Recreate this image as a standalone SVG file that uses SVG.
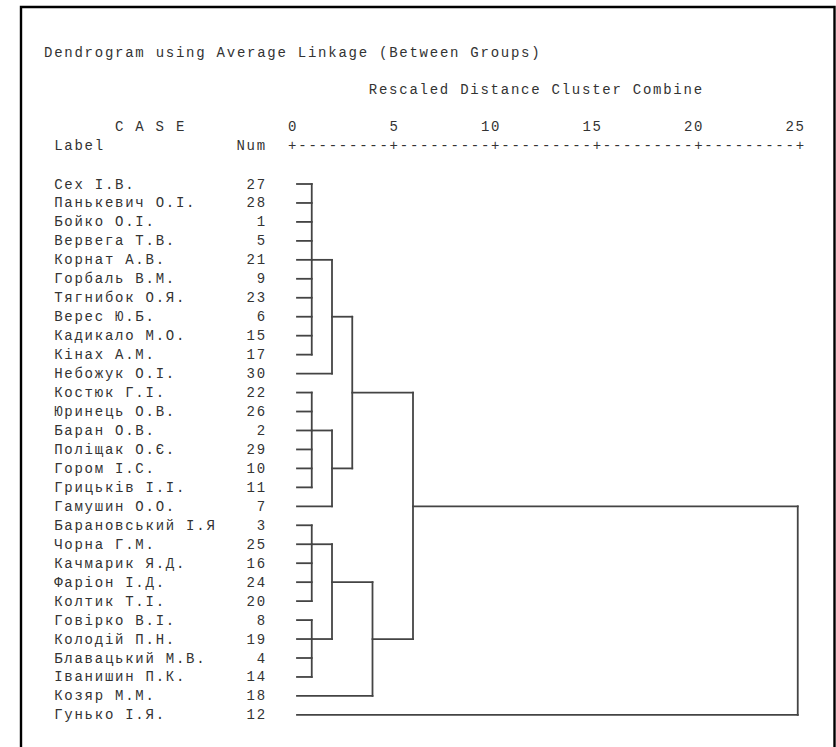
<svg xmlns="http://www.w3.org/2000/svg" width="836" height="747" viewBox="0 0 836 747">
<style>
  text { font-family: "Liberation Mono", "DejaVu Sans Mono", monospace; font-size: 14px; letter-spacing: 1.75px; fill: #333; }
  .tree line { stroke: #444; stroke-width: 1.8; stroke-linecap: square; }
  .frame { fill: none; stroke: #000; stroke-width: 2.4; }
</style>
<rect width="836" height="747" fill="#fff"/>
<path class="frame" d="M21,748 V7 H834.5 V748"/>
<g id="header">
  <text x="44" y="56.5">Dendrogram using Average Linkage (Between Groups)</text>
  <text x="368.8" y="93.5">Rescaled Distance Cluster Combine</text>
  <text x="115" y="131">C A S E</text>
  <text x="288.1" y="131">0</text>
  <text x="389.6" y="131">5</text>
  <text x="480.9" y="131">10</text>
  <text x="582.4" y="131">15</text>
  <text x="683.9" y="131">20</text>
  <text x="785.4" y="131">25</text>
  <text x="54.15" y="149.5">Label</text>
  <text x="236.4" y="149.5">Num</text>
  <text x="288.1" y="149.5">+---------+---------+---------+---------+---------+</text>
</g>
<g id="leaf-27"><text x="54.15" y="188.5">Сех І.В.</text><text x="246.5" y="188.5">27</text></g>
<g id="leaf-28"><text x="54.15" y="207.46">Панькевич О.І.</text><text x="246.5" y="207.46">28</text></g>
<g id="leaf-1"><text x="54.15" y="226.42">Бойко О.І.</text><text x="256.65" y="226.42">1</text></g>
<g id="leaf-5"><text x="54.15" y="245.38">Вервега Т.В.</text><text x="256.65" y="245.38">5</text></g>
<g id="leaf-21"><text x="54.15" y="264.34">Корнат А.В.</text><text x="246.5" y="264.34">21</text></g>
<g id="leaf-9"><text x="54.15" y="283.3">Горбаль В.М.</text><text x="256.65" y="283.3">9</text></g>
<g id="leaf-23"><text x="54.15" y="302.26">Тягнибок О.Я.</text><text x="246.5" y="302.26">23</text></g>
<g id="leaf-6"><text x="54.15" y="321.22">Верес Ю.Б.</text><text x="256.65" y="321.22">6</text></g>
<g id="leaf-15"><text x="54.15" y="340.18">Кадикало М.О.</text><text x="246.5" y="340.18">15</text></g>
<g id="leaf-17"><text x="54.15" y="359.14">Кінах А.М.</text><text x="246.5" y="359.14">17</text></g>
<g id="leaf-30"><text x="54.15" y="378.1">Небожук О.І.</text><text x="246.5" y="378.1">30</text></g>
<g id="leaf-22"><text x="54.15" y="397.06">Костюк Г.І.</text><text x="246.5" y="397.06">22</text></g>
<g id="leaf-26"><text x="54.15" y="416.02">Юринець О.В.</text><text x="246.5" y="416.02">26</text></g>
<g id="leaf-2"><text x="54.15" y="434.98">Баран О.В.</text><text x="256.65" y="434.98">2</text></g>
<g id="leaf-29"><text x="54.15" y="453.94">Поліщак О.Є.</text><text x="246.5" y="453.94">29</text></g>
<g id="leaf-10"><text x="54.15" y="472.9">Гором І.С.</text><text x="246.5" y="472.9">10</text></g>
<g id="leaf-11"><text x="54.15" y="491.86">Грицьків І.І.</text><text x="246.5" y="491.86">11</text></g>
<g id="leaf-7"><text x="54.15" y="510.82">Гамушин О.О.</text><text x="256.65" y="510.82">7</text></g>
<g id="leaf-3"><text x="54.15" y="529.78">Барановський І.Я</text><text x="256.65" y="529.78">3</text></g>
<g id="leaf-25"><text x="54.15" y="548.74">Чорна Г.М.</text><text x="246.5" y="548.74">25</text></g>
<g id="leaf-16"><text x="54.15" y="567.7">Качмарик Я.Д.</text><text x="246.5" y="567.7">16</text></g>
<g id="leaf-24"><text x="54.15" y="586.66">Фаріон І.Д.</text><text x="246.5" y="586.66">24</text></g>
<g id="leaf-20"><text x="54.15" y="605.62">Колтик Т.І.</text><text x="246.5" y="605.62">20</text></g>
<g id="leaf-8"><text x="54.15" y="624.58">Говірко В.І.</text><text x="256.65" y="624.58">8</text></g>
<g id="leaf-19"><text x="54.15" y="643.54">Колодій П.Н.</text><text x="246.5" y="643.54">19</text></g>
<g id="leaf-4"><text x="54.15" y="662.5">Блавацький М.В.</text><text x="256.65" y="662.5">4</text></g>
<g id="leaf-14"><text x="54.15" y="681.46">Іванишин П.К.</text><text x="246.5" y="681.46">14</text></g>
<g id="leaf-18"><text x="54.15" y="700.42">Козяр М.М.</text><text x="246.5" y="700.42">18</text></g>
<g id="leaf-12"><text x="54.15" y="719.38">Гунько І.Я.</text><text x="246.5" y="719.38">12</text></g>
<g id="connectors" class="tree">
  <line x1="297" y1="184" x2="311.75" y2="184"/>
  <line x1="297" y1="202.96" x2="311.75" y2="202.96"/>
  <line x1="297" y1="221.92" x2="311.75" y2="221.92"/>
  <line x1="297" y1="240.88" x2="311.75" y2="240.88"/>
  <line x1="297" y1="259.84" x2="311.75" y2="259.84"/>
  <line x1="297" y1="278.8" x2="311.75" y2="278.8"/>
  <line x1="297" y1="297.76" x2="311.75" y2="297.76"/>
  <line x1="297" y1="316.72" x2="311.75" y2="316.72"/>
  <line x1="297" y1="335.68" x2="311.75" y2="335.68"/>
  <line x1="297" y1="354.64" x2="311.75" y2="354.64"/>
  <line x1="311.75" y1="184" x2="311.75" y2="354.64"/>
  <line x1="311.75" y1="259.84" x2="332" y2="259.84"/>
  <line x1="297" y1="373.6" x2="332" y2="373.6"/>
  <line x1="332" y1="259.84" x2="332" y2="373.6"/>
  <line x1="332" y1="316.72" x2="352.25" y2="316.72"/>
  <line x1="297" y1="392.56" x2="311.75" y2="392.56"/>
  <line x1="297" y1="411.52" x2="311.75" y2="411.52"/>
  <line x1="297" y1="430.48" x2="311.75" y2="430.48"/>
  <line x1="297" y1="449.44" x2="311.75" y2="449.44"/>
  <line x1="297" y1="468.4" x2="311.75" y2="468.4"/>
  <line x1="297" y1="487.36" x2="311.75" y2="487.36"/>
  <line x1="311.75" y1="392.56" x2="311.75" y2="487.36"/>
  <line x1="311.75" y1="430.48" x2="332" y2="430.48"/>
  <line x1="297" y1="506.32" x2="332" y2="506.32"/>
  <line x1="332" y1="430.48" x2="332" y2="506.32"/>
  <line x1="332" y1="468.4" x2="352.25" y2="468.4"/>
  <line x1="352.25" y1="316.72" x2="352.25" y2="468.4"/>
  <line x1="352.25" y1="392.56" x2="413" y2="392.56"/>
  <line x1="297" y1="525.28" x2="311.75" y2="525.28"/>
  <line x1="297" y1="544.24" x2="311.75" y2="544.24"/>
  <line x1="297" y1="563.2" x2="311.75" y2="563.2"/>
  <line x1="297" y1="582.16" x2="311.75" y2="582.16"/>
  <line x1="297" y1="601.12" x2="311.75" y2="601.12"/>
  <line x1="311.75" y1="525.28" x2="311.75" y2="601.12"/>
  <line x1="311.75" y1="544.24" x2="332" y2="544.24"/>
  <line x1="297" y1="620.08" x2="311.75" y2="620.08"/>
  <line x1="297" y1="639.04" x2="311.75" y2="639.04"/>
  <line x1="297" y1="658" x2="311.75" y2="658"/>
  <line x1="297" y1="676.96" x2="311.75" y2="676.96"/>
  <line x1="311.75" y1="620.08" x2="311.75" y2="676.96"/>
  <line x1="311.75" y1="639.04" x2="332" y2="639.04"/>
  <line x1="332" y1="544.24" x2="332" y2="639.04"/>
  <line x1="332" y1="582.16" x2="372.5" y2="582.16"/>
  <line x1="297" y1="695.92" x2="372.5" y2="695.92"/>
  <line x1="372.5" y1="582.16" x2="372.5" y2="695.92"/>
  <line x1="372.5" y1="639.04" x2="413" y2="639.04"/>
  <line x1="413" y1="392.56" x2="413" y2="639.04"/>
  <line x1="413" y1="506.32" x2="797.75" y2="506.32"/>
  <line x1="297" y1="714.88" x2="797.75" y2="714.88"/>
  <line x1="797.75" y1="506.32" x2="797.75" y2="714.88"/>
</g>
</svg>
